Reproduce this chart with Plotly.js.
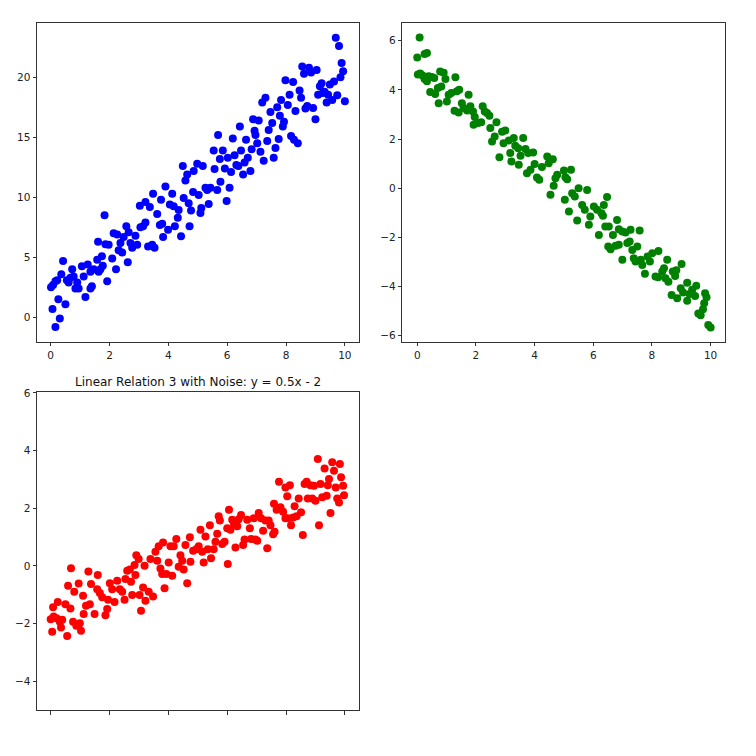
<!DOCTYPE html>
<html>
<head>
<meta charset="utf-8">
<script src="https://cdn.plot.ly/plotly-3.0.1.min.js"></script>
<style>html,body{margin:0;padding:0;background:#fff;}#chart{width:756px;height:756px;}</style>
</head>
<body>
<div id="chart"></div>
<script>
// Panel 1 (blue): y = 2x + 3 with noise
const x1 = [0.01,0.08,0.16,0.22,0.06,0.16,0.31,0.26,0.5,0.42,0.36,0.61,0.55,0.67,0.73,0.78,0.84,0.95,0.9,1.06,1.12,1.18,1.26,1.35,1.4,1.35,1.46,1.58,1.63,1.69,1.74,1.77,1.61,1.83,1.86,1.97,1.92,2.09,2.22,2.14,2.26,2.31,2.37,2.43,2.48,2.57,2.62,2.65,2.71,2.77,2.88,2.94,3.05,3.14,3.22,3.03,3.22,3.37,3.31,3.45,3.53,3.48,3.62,3.71,3.75,3.82,3.79,3.9,3.99,4.05,4.13,4.18,4.22,4.32,4.35,4.43,4.49,4.52,4.58,4.64,4.69,4.72,4.77,4.86,4.84,4.98,5.03,5.09,5.12,5.17,5.26,5.32,5.37,5.43,5.54,5.57,5.66,5.69,5.75,5.77,5.85,5.92,5.98,6.02,6.08,6.13,6.19,6.25,6.31,6.38,6.43,6.47,6.54,6.59,6.64,6.7,6.79,6.83,6.88,6.93,6.96,7.02,7.07,7.13,7.19,7.24,7.3,7.36,7.41,7.47,7.53,7.58,7.64,7.7,7.75,7.79,7.83,7.89,7.93,7.98,8.06,8.12,8.17,8.24,8.27,8.32,8.4,8.46,8.51,8.55,8.61,8.66,8.72,8.78,8.85,8.92,9.0,9.04,9.09,9.15,9.21,9.25,9.31,9.38,9.43,9.49,9.57,9.63,9.69,9.74,9.8,9.85,9.89,9.94,10.0];
const y1 = [2.5,2.7,3.0,3.1,0.7,-0.8,-0.1,1.5,1.1,4.7,3.6,2.9,3.1,3.3,4.0,3.4,2.4,2.4,2.9,4.25,3.4,1.7,4.4,3.8,2.6,2.4,4.0,4.8,3.8,4.0,5.1,4.3,6.3,8.5,6.1,6.05,3.0,4.9,4.0,7.0,6.9,5.6,6.2,5.4,6.7,7.6,4.6,7.1,6.2,5.8,6.8,6.05,7.5,7.6,7.9,9.3,9.6,9.2,5.9,6.05,5.8,10.3,8.6,7.7,9.8,6.7,7.8,10.9,7.3,9.4,10.3,9.25,7.6,8.3,8.95,6.75,12.6,9.95,11.4,11.9,9.5,7.6,8.9,12.2,10.45,12.8,10.2,8.7,9.1,12.6,10.8,10.6,9.45,10.8,13.9,12.35,10.6,15.2,13.2,11.3,13.9,12.4,9.7,13.3,10.8,12.1,14.9,13.5,12.7,12.6,15.9,13.9,11.9,12.9,14.8,13.3,12.2,14.0,16.5,15.55,15.2,14.5,16.4,13.8,17.9,13.05,18.3,14.7,15.6,17.1,16.2,13.3,14.1,17.5,14.85,16.8,18.1,15.9,16.3,19.75,17.7,18.55,15.1,19.6,14.8,17.2,14.5,18.9,18.3,20.9,20.3,17.4,17.6,20.8,20.4,17.45,16.5,20.6,18.55,19.25,19.5,18.7,18.8,17.9,18.55,19.4,18.1,19.65,23.3,18.5,22.6,20.0,21.2,20.5,18.0];

// Panel 2 (green): y = -x + 5 with noise
const x2 = [0.08,0.0,0.25,0.33,0.02,0.1,0.18,0.25,0.3,0.39,0.5,0.58,0.33,0.44,0.61,0.73,0.78,0.9,0.96,0.82,0.7,1.01,1.07,1.16,1.3,1.35,1.43,1.27,1.41,1.52,1.58,1.75,1.7,1.81,1.9,1.96,1.92,2.07,2.18,2.23,2.3,2.38,2.46,2.49,2.7,2.55,2.64,2.8,2.89,3.0,2.94,3.12,3.29,3.34,3.44,3.61,3.17,3.21,3.46,3.52,3.69,3.78,3.95,3.74,3.86,4.0,4.08,4.16,4.25,4.43,4.62,4.48,4.54,4.65,4.71,4.77,5.0,5.05,5.11,5.24,5.03,5.17,5.28,5.37,5.45,5.5,5.62,5.71,5.79,5.85,5.9,6.02,6.13,6.19,6.28,6.36,6.47,6.33,6.41,6.53,6.67,6.81,6.87,6.99,7.1,7.27,6.51,6.59,6.76,6.87,6.99,7.16,7.24,7.33,7.38,7.5,7.58,7.44,7.62,7.67,7.76,7.85,7.93,8.01,8.22,8.12,8.21,8.35,8.41,8.46,8.52,8.56,8.71,8.79,8.83,9.01,8.67,8.86,8.98,9.06,9.2,9.2,9.28,9.37,9.47,9.51,9.58,9.66,9.74,9.78,9.86,9.81,9.92,10.0];
const y2 = [6.13,5.32,5.46,5.5,4.62,4.66,4.58,4.44,4.52,4.55,4.52,4.48,4.35,3.91,3.83,3.46,4.75,4.7,4.44,4.14,4.07,3.53,3.8,3.87,4.51,3.94,4.0,3.15,3.08,3.46,3.26,3.8,3.16,3.33,3.12,2.9,2.58,2.65,2.68,3.33,3.12,3.06,2.95,2.45,2.68,1.9,2.1,1.26,2.3,2.35,1.83,1.94,2.04,1.73,1.63,2.04,1.43,1.09,0.95,1.32,1.59,1.43,1.45,0.61,0.75,0.99,0.44,0.34,0.86,1.29,1.18,1.02,-0.27,0.1,0.41,0.55,0.72,0.45,0.37,0.75,-0.47,-0.95,-0.2,-0.34,-1.31,0.0,-0.68,-0.88,-0.07,-1.49,-1.15,-0.74,-0.88,-1.9,-1.02,-0.68,-0.36,-1.12,-1.56,-1.56,-1.9,-1.29,-1.67,-1.76,-1.8,-1.69,-2.37,-2.48,-2.34,-2.3,-2.91,-2.23,-2.17,-2.51,-2.85,-2.37,-1.72,-2.98,-2.91,-3.12,-3.48,-2.78,-2.98,-2.64,-2.55,-3.59,-3.62,-3.39,-3.25,-3.66,-2.91,-3.8,-3.39,-3.57,-3.33,-3.08,-4.34,-4.47,-4.07,-4.24,-3.84,-4.57,-4.3,-4.13,-4.38,-3.97,-5.09,-5.16,-4.92,-4.68,-4.43,-4.27,-5.56,-5.66];

// Panel 3 (red): y = 0.5x - 2 with noise
const x3 = [0.05,0.0,0.1,0.08,0.24,0.35,0.39,0.31,0.2,0.56,0.5,0.67,0.69,0.59,0.76,0.8,0.87,0.99,1.03,0.95,1.1,1.12,1.2,1.28,1.33,1.37,1.49,1.6,1.58,1.67,1.75,1.86,1.92,1.95,2.01,2.09,2.17,2.26,2.35,2.43,2.51,2.54,2.6,2.69,2.73,2.77,2.88,2.91,2.85,2.99,3.02,3.07,3.14,3.22,3.19,3.33,3.39,3.48,3.56,3.62,3.67,3.73,3.82,3.79,3.87,3.93,4.01,4.07,4.13,4.18,4.27,4.35,4.41,4.47,4.52,4.58,4.64,4.73,4.75,4.84,4.95,5.03,5.09,5.15,5.2,5.26,5.34,5.41,5.45,5.54,5.6,5.66,5.71,5.75,5.83,5.91,6.0,6.02,6.06,6.11,6.17,6.23,6.28,6.34,6.39,6.47,6.54,6.59,6.68,6.77,6.81,6.9,6.96,7.02,7.07,7.15,7.22,7.3,7.36,7.41,7.47,7.56,7.61,7.59,7.68,7.76,7.81,7.9,7.98,7.98,8.04,8.06,8.13,8.17,8.24,8.29,8.36,8.43,8.51,8.57,8.63,8.7,8.74,8.83,8.89,8.95,9.0,9.08,9.12,9.17,9.23,9.31,9.38,9.42,9.46,9.51,9.57,9.63,9.69,9.74,9.8,9.83,9.87,9.94,9.97];
const y3 = [-2.29,-1.85,-1.76,-1.44,-1.25,-2.14,-1.87,-1.94,-1.82,-2.43,-1.33,-1.48,-0.08,-0.69,-1.94,-0.9,-2.08,-1.99,-2.25,-0.61,-1.04,-1.67,-1.38,-0.2,-1.33,-0.63,-1.67,-0.32,-0.81,-0.94,-1.09,-1.71,-1.5,-1.18,-0.6,-0.81,-1.25,-0.52,-0.81,-0.9,-1.18,-0.46,-0.17,-0.13,-0.55,-1.01,-0.32,0.37,0.03,0.24,-1.01,-1.56,-0.75,-1.21,0.0,-0.9,0.24,-1.06,0.49,0.18,0.68,-0.09,0.81,-0.28,-0.78,-0.28,0.12,0.68,-0.34,0.68,0.93,-0.03,0.37,0.18,-0.13,0.72,-0.6,0.99,0.14,0.52,0.58,0.68,1.25,0.49,0.12,1.02,0.58,1.41,0.26,0.58,0.84,1.11,1.72,1.57,0.76,0.84,1.3,0.06,1.95,1.25,1.6,1.45,0.64,1.37,1.62,1.76,0.72,0.91,1.6,1.3,0.93,1.65,0.91,0.87,1.83,1.65,1.22,1.57,0.61,1.57,1.41,1.1,1.18,2.15,1.95,2.92,2.03,1.88,1.65,2.72,2.41,1.65,2.8,1.41,1.68,2.07,1.72,2.34,1.86,1.07,2.84,2.92,2.34,2.8,2.34,2.78,2.26,3.71,1.41,2.84,2.38,3.38,2.43,2.8,3.01,1.83,3.59,3.3,2.72,2.34,2.2,3.53,3.07,2.78,2.45];

const title3 = 'Linear Relation 3 with Noise: y = 0.5x - 2';
const xTicks = [0, 2, 4, 6, 8, 10];
const y1Ticks = [0, 5, 10, 15, 20];
const y2Ticks = [-6, -4, -2, 0, 2, 4, 6];
const y3Ticks = [-4, -2, 0, 2, 4, 6];

const W = 756, H = 756;
const px = v => v / W;
const py = v => 1 - v / H;

const tickFont = {family: 'DejaVu Sans, sans-serif', size: 10.5, color: '#222'};
function axis(domain, range, ticks, anchor, showLabels) {
  return {
    domain: domain, range: range, anchor: anchor,
    tickmode: 'array', tickvals: ticks, ticktext: ticks.map(t => t < 0 ? '\u2212' + Math.abs(t) : String(t)),
    showticklabels: showLabels !== false,
    ticks: 'outside', ticklen: 3.5, tickwidth: 1, tickcolor: '#333',
    showline: true, mirror: true, linecolor: '#333', linewidth: 1,
    showgrid: false, zeroline: false, tickfont: tickFont, fixedrange: true
  };
}

const mk = c => ({color: c, size: 8, line: {width: 0}});
const traces = [
  {x: x1, y: y1, type: 'scatter', mode: 'markers', marker: mk('#0000ff'), xaxis: 'x', yaxis: 'y', hoverinfo: 'skip'},
  {x: x2, y: y2, type: 'scatter', mode: 'markers', marker: mk('#008000'), xaxis: 'x2', yaxis: 'y2', hoverinfo: 'skip'},
  {x: x3, y: y3, type: 'scatter', mode: 'markers', marker: mk('#ff0000'), xaxis: 'x3', yaxis: 'y3', hoverinfo: 'skip'}
];

const dTop = [py(341.7), py(22.7)];
const dBot = [py(710), py(392.3)];
const dL = [px(37), px(359)];
const dR = [px(402.3), px(725.3)];

const layout = {
  width: W, height: H,
  margin: {l: 0, r: 0, t: 0, b: 0},
  paper_bgcolor: '#fff', plot_bgcolor: '#fff',
  showlegend: false,
  xaxis: axis(dL, [-0.466, 10.48], xTicks, 'y'),
  yaxis: axis(dTop, [-2.03, 24.55], y1Ticks, 'x'),
  xaxis2: axis(dR, [-0.51, 10.5], xTicks, 'y2'),
  yaxis2: axis(dTop, [-6.24, 6.73], y2Ticks, 'x2'),
  xaxis3: axis(dL, [-0.466, 10.48], xTicks, 'y3', false),
  yaxis3: axis(dBot, [-5.0, 6.02], y3Ticks, 'x3'),
  annotations: [{
    text: title3, xref: 'paper', yref: 'paper',
    x: (dL[0] + dL[1]) / 2, y: py(381.5), xanchor: 'center', yanchor: 'middle',
    showarrow: false, font: {family: 'DejaVu Sans, sans-serif', size: 12, color: '#111'}
  }]
};

Plotly.newPlot('chart', traces, layout, {staticPlot: true, displayModeBar: false});
</script>
</body>
</html>
